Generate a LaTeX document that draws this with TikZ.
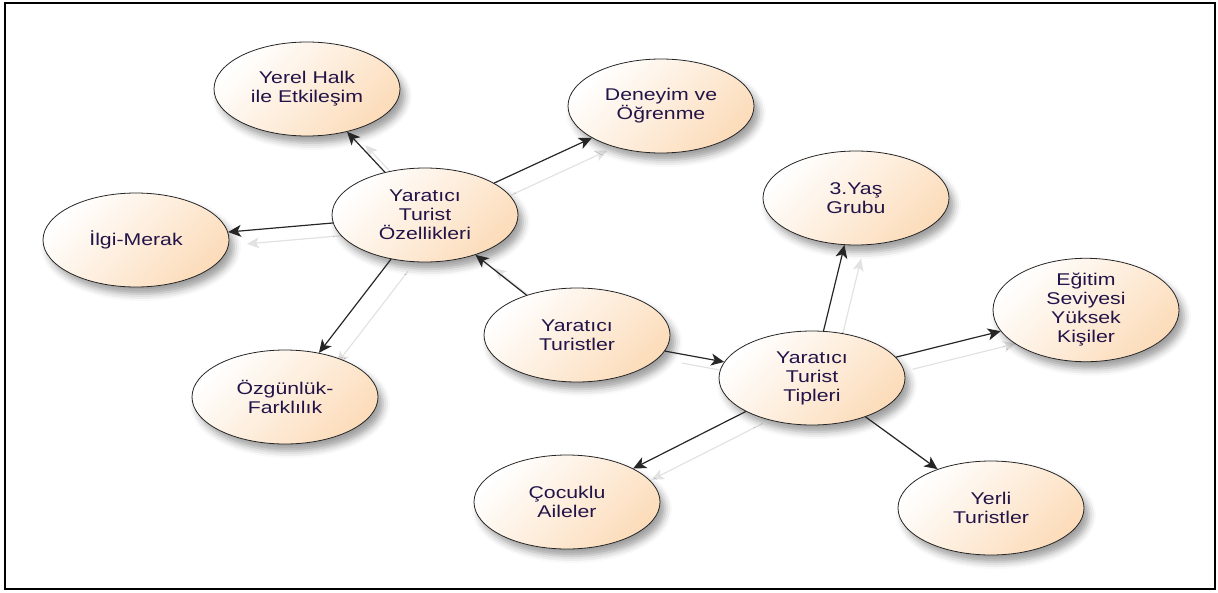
\documentclass[tikz,border=0pt]{standalone}
\usepackage{fontspec}
\setmainfont[FakeStretch=1.25]{Liberation Sans}
\usetikzlibrary{shapes.geometric,arrows.meta,shadows.blur,backgrounds}
\definecolor{peach}{RGB}{252,220,186}
\definecolor{inktext}{RGB}{34,20,72}
\definecolor{ghostgray}{RGB}{226,226,226}
\tikzset{
  bubble/.style={ellipse, draw=black!85, line width=0.8pt,
    minimum width=186pt, minimum height=94pt, inner sep=0pt,
    top color=white, bottom color=peach, shading angle=45,
    align=center, text=inktext,
    font=\fontsize{17}{19}\selectfont,
    blur shadow={shadow xshift=5pt, shadow yshift=-7pt,
      shadow blur radius=7pt, shadow opacity=38}},
  link/.style={draw=black!85, line width=1.2pt,
    -{Stealth[length=13pt,width=12pt,inset=3.5pt]}},
  ghost/.style={draw=ghostgray, line width=1.2pt, shorten >=2pt,
    -{Stealth[length=12pt,width=11pt,inset=3pt]},
    transform canvas={shift={(17pt,-12pt)}}}
}
\begin{document}
\begin{tikzpicture}[x=1pt,y=-1pt]
\useasboundingbox (0,0) rectangle (1218,592);
\draw[line width=2pt] (5,3) rectangle (1215,589);

% bubbles
\node[bubble] (yerel)  at (307,89)   {Yerel Halk\\ile Etkileşim};
\node[bubble] (deney)  at (661,106)  {Deneyim ve\\Öğrenme};
\node[bubble] (ilgi)   at (136,240)  {İlgi-Merak};
\node[bubble] (ozel)   at (425,215)  {Yaratıcı\\Turist\\Özellikleri};
\node[bubble] (ozgun)  at (285,397)  {Özgünlük-\\Farklılık};
\node[bubble] (turist) at (577,335)  {Yaratıcı\\Turistler};
\node[bubble] (yas)    at (856,198)  {3.Yaş\\Grubu};
\node[bubble] (egitim) at (1086,310) {Eğitim\\Seviyesi\\Yüksek\\Kişiler};
\node[bubble] (tip)    at (812,378)  {Yaratıcı\\Turist\\Tipleri};
\node[bubble] (cocuk)  at (567,502)  {Çocuklu\\Aileler};
\node[bubble] (yerli)  at (991,508)  {Yerli\\Turistler};

% faint shadow copies of the connectors
\begin{scope}[on background layer]
  \draw[ghost] (ozel) -- (yerel);
  \draw[ghost] (ozel) -- (deney);
  \draw[ghost] (ozel) -- (ilgi);
  \draw[ghost] (ozel) -- (ozgun);
  \draw[ghost] (turist) -- (ozel);
  \draw[ghost] (turist) -- (tip);
  \draw[ghost] (tip) -- (yas);
  \draw[ghost] (tip) -- (egitim);
  \draw[ghost] (tip) -- (cocuk);
  \draw[ghost] (tip) -- (yerli);
\end{scope}

% connectors
\draw[link] (ozel) -- (yerel);
\draw[link] (ozel) -- (deney);
\draw[link] (ozel) -- (ilgi);
\draw[link] (ozel) -- (ozgun);
\draw[link] (turist) -- (ozel);
\draw[link] (turist) -- (tip);
\draw[link] (tip) -- (yas);
\draw[link] (tip) -- (egitim);
\draw[link] (tip) -- (cocuk);
\draw[link] (tip) -- (yerli);
\end{tikzpicture}
\end{document}
